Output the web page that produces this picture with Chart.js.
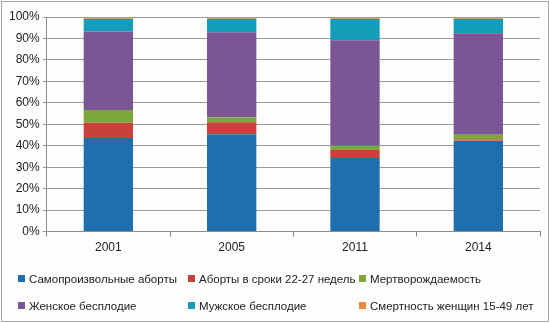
<!DOCTYPE html>
<html>
<head>
<meta charset="utf-8">
<script src="https://cdn.jsdelivr.net/npm/chart.js@4"></script>
<style>
  html, body { margin: 0; padding: 0; background: #fff; }
  #wrap {
    position: relative; width: 546px; height: 319px;
    margin: 1px; border: 1px solid #a6a6a6; background: #fdfdfb;
  }
  #legend { position: absolute; left: 0; top: 0; width: 100%; height: 100%; pointer-events: none; }
  .item {
    position: absolute; font: 11.5px "Liberation Sans", sans-serif; color: #222;
    white-space: nowrap; line-height: 14px;
  }
  .item span.box { display: inline-block; width: 7px; height: 7px; margin-right: 4px; vertical-align: 1px; }
</style>
</head>
<body>
<div id="wrap">
  <canvas id="c" width="546" height="319"></canvas>
  <div id="legend"></div>
</div>
<script>
const years = ['2001', '2005', '2011', '2014'];
const seriesNames = [
  'Самопроизвольные аборты',
  'Аборты в сроки 22-27 недель',
  'Мертворождаемость',
  'Женское бесплодие',
  'Мужское бесплодие',
  'Смертность женщин 15-49 лет'
];
const spontaneous = [43.6, 45.4, 34.3, 42.2];
const lateAbortions = [7.1, 5.6, 3.7, 0.3];
const stillbirth = [6.0, 2.3, 2.0, 2.6];
const femaleInfertility = [36.5, 39.6, 49.2, 47.3];
const maleInfertility = [6.0, 6.3, 10.0, 6.8];
const womenMortality = [0.8, 0.8, 0.8, 0.8];
const yTicks = ['0%', '10%', '20%', '30%', '40%', '50%', '60%', '70%', '80%', '90%', '100%'];

const colors = ['#1f6fae', '#c9403c', '#7da63d', '#7a5697', '#149cbb', '#f0883a'];
const values = [spontaneous, lateAbortions, stillbirth, femaleInfertility, maleInfertility, womenMortality];

const ctx = document.getElementById('c').getContext('2d');
const chart = new Chart(ctx, {
  type: 'bar',
  data: {
    labels: years,
    datasets: seriesNames.map((name, i) => ({
      label: name,
      data: values[i],
      backgroundColor: colors[i],
      borderWidth: 0,
      categoryPercentage: 1,
      barPercentage: 0.4
    }))
  },
  options: {
    responsive: false,
    animation: false,
    layout: { padding: { top: 15, right: 8, bottom: 62, left: 4 } },
    plugins: { legend: { display: false }, tooltip: { enabled: false } },
    scales: {
      x: {
        stacked: true,
        grid: { display: true, drawOnChartArea: false, offset: true, tickLength: 5, color: '#8c8c8c' },
        border: { color: '#8c8c8c' },
        ticks: { color: '#222', font: { family: 'Liberation Sans', size: 12 }, padding: 4 }
      },
      y: {
        stacked: true,
        min: 0, max: 100,
        grid: { color: '#9a9a9a', tickLength: 4 },
        border: { color: '#8c8c8c' },
        ticks: {
          stepSize: 10,
          color: '#222',
          font: { family: 'Liberation Sans', size: 12 },
          padding: 3,
          callback: (v, i) => yTicks[i]
        }
      }
    }
  }
});

// legend in a 3x2 grid, like the original
const legend = document.getElementById('legend');
const colX = [16, 186, 357];
const rowY = [270, 297];
seriesNames.forEach((name, i) => {
  const d = document.createElement('div');
  d.className = 'item';
  d.style.left = colX[i % 3] + 'px';
  d.style.top = rowY[Math.floor(i / 3)] + 'px';
  d.innerHTML = '<span class="box" style="background:' + colors[i] + '"></span>' + name;
  legend.appendChild(d);
});
</script>
</body>
</html>
